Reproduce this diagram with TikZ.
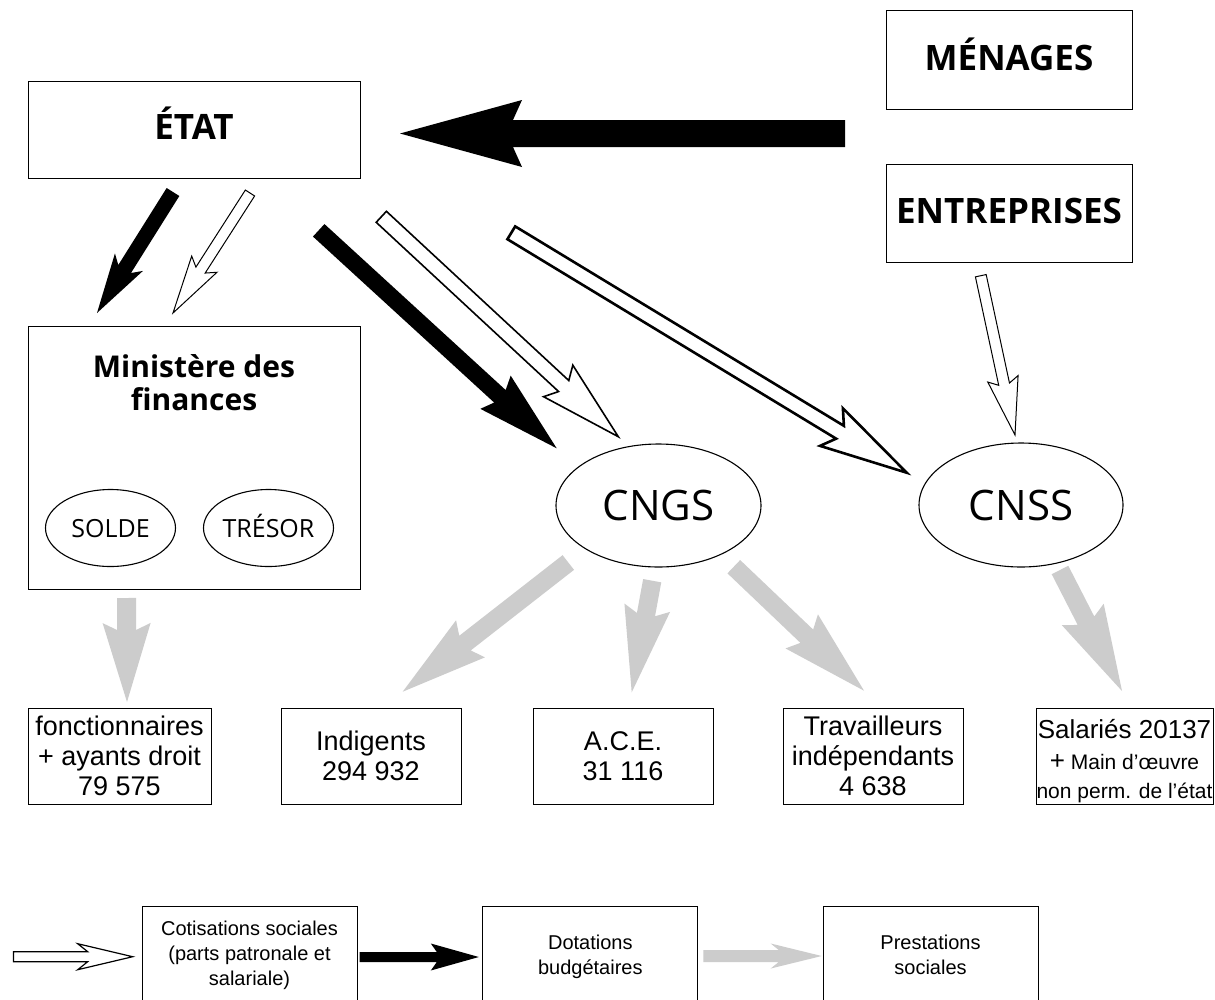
\documentclass[tikz,border=0pt]{standalone}
\usepackage{fontspec}
\setmainfont{Liberation Sans}
\newfontfamily\titlefont{Open Sans}
\usetikzlibrary{calc,shapes.geometric}
\definecolor{flowgray}{RGB}{204,204,204}
% #1 style, #2 tail, #3 tip, #4 half shaft width, #5 junction distance, #6 barb distance, #7 half head width
\newcommand\blockarrow[7]{%
  \coordinate (tmpj) at ($(#3)!#5pt!(#2)$);
  \coordinate (tmpb) at ($(#3)!#6pt!(#2)$);
  \path[#1] ($(#2)!#4pt!90:(#3)$) -- ($(tmpj)!#4pt!-90:(#2)$) -- ($(tmpb)!#7pt!-90:(#2)$) -- (#3)
     -- ($(tmpb)!#7pt!90:(#2)$) -- ($(tmpj)!#4pt!90:(#2)$) -- ($(#2)!#4pt!-90:(#3)$) -- cycle;
}
\tikzset{
  box/.style={draw=black, line width=1pt, inner sep=0pt, rectangle},
  titlebox/.style={box, font=\titlefont\bfseries\fontsize{35}{40}\selectfont, text height=25pt, text depth=5pt},
  oval/.style={draw=black, line width=1.1pt, ellipse, inner sep=0pt},
  smalloval/.style={oval, minimum width=130pt, minimum height=77pt, font=\titlefont\fontsize{25}{30}\selectfont, text height=18pt, text depth=0pt},
  bigoval/.style={oval, font=\titlefont\fontsize{42}{50}\selectfont, text height=30pt, text depth=0pt},
  popbox/.style={box, minimum height=96pt, align=center, font=\fontsize{27}{30}\selectfont},
  legbox/.style={box, minimum width=215pt, minimum height=104pt, anchor=north},
  legtext/.style={anchor=base, font=\fontsize{20}{25}\selectfont},
  blackarrow/.style={fill=black, draw=none},
  hollowarrow/.style={fill=white, draw=black, line width=1.2pt, line join=miter, miter limit=20},
  grayarrow/.style={fill=flowgray, draw=none},
}
\begin{document}
\begin{tikzpicture}[x=1pt,y=-1pt]
\useasboundingbox[fill=white] (0,0) rectangle (1215,999);

% ---- main nodes
\node[titlebox, minimum width=332pt, minimum height=97pt] (etat) at (194,129.5) {ÉTAT};
\node[titlebox, minimum width=246pt, minimum height=98.5pt] (menages) at (1009,60) {MÉNAGES};
\node[titlebox, minimum width=246pt, minimum height=98.5pt] (entreprises) at (1009,213.3) {ENTREPRISES};
\node[box, minimum width=332pt, minimum height=263pt] (minfin) at (194,457.5) {};
\node[anchor=base, font=\titlefont\bfseries\fontsize{30}{33}\selectfont] (minfin1) at (194,377) {Ministère des};
\node[anchor=base, font=\titlefont\bfseries\fontsize{30}{33}\selectfont] (minfin2) at (194,410) {finances};
\node[smalloval] (solde) at (110.5,528) {SOLDE};
\node[smalloval] (tresor) at (268.5,528) {TRÉSOR};
\node[bigoval, minimum width=205pt, minimum height=123pt] (cngs) at (658.5,505.5) {CNGS};
\node[bigoval, minimum width=204pt, minimum height=124pt] (cnss) at (1021,505) {CNSS};

% ---- population boxes
\node[popbox, minimum width=183pt] (fonct) at (119.5,756) {fonctionnaires\\+ ayants droit\\79 575};
\node[popbox, minimum width=180pt] (indig) at (371,756) {Indigents\\294 932};
\node[popbox, minimum width=180pt] (ace) at (623,756) {A.C.E.\\31 116};
\node[popbox, minimum width=180pt] (trav) at (873,756) {Travailleurs\\indépendants\\4 638};
\node[box, minimum width=177pt, minimum height=96pt] (sal) at (1124.5,756) {};
\node[anchor=base, font=\fontsize{26}{30}\selectfont] (sal1) at (1124.5,738) {Salariés 20137};
\node[anchor=base, font=\fontsize{21}{25}\selectfont] (sal2) at (1124.5,769) {{\fontsize{26}{30}\selectfont +} Main d’œuvre};
\node[anchor=base, font=\fontsize{21}{25}\selectfont] (sal3) at (1124.5,798) {non perm. de l’état};

% ---- legend boxes
\node[legbox] (cotis) at (249.5,906) {};
\node[legtext] (cotis1) at (249.5,935) {Cotisations sociales};
\node[legtext] (cotis2) at (249.5,960) {(parts patronale et};
\node[legtext] (cotis3) at (249.5,985) {salariale)};
\node[legbox] (dotat) at (590.3,906) {};
\node[legtext] (dotat1) at (590.3,949) {Dotations};
\node[legtext] (dotat2) at (590.3,974) {budgétaires};
\node[legbox] (prest) at (930.5,906) {};
\node[legtext] (prest1) at (930.5,949) {Prestations};
\node[legtext] (prest2) at (930.5,974) {sociales};

% ---- arrow end points
\coordinate (menT) at (845,133.5);   \coordinate (etatH) at (400,133.5);
\coordinate (e1T) at (173,192);      \coordinate (min1H) at (97,313);
\coordinate (e2T) at (250,193);      \coordinate (min2H) at (173,313);
\coordinate (e3T) at (318.7,230.3);  \coordinate (cngs1H) at (556.7,448.3);
\coordinate (e4T) at (381.3,216.8);  \coordinate (cngs2H) at (618.3,436.7);
\coordinate (e5T) at (511.3,232.8);  \coordinate (cnss1H) at (906.7,472.7);
\coordinate (entT) at (980.8,275.7); \coordinate (cnss2H) at (1015,435);
\coordinate (g1T) at (126.5,598);    \coordinate (fonctH) at (127,702);
\coordinate (g2T) at (568.3,562.5);  \coordinate (indigH) at (402.7,691.7);
\coordinate (g3T) at (652.2,580.7);  \coordinate (aceH) at (631.7,692.3);
\coordinate (g4T) at (733.8,566.7);  \coordinate (travH) at (864,690.7);
\coordinate (g5T) at (1060,570);     \coordinate (salH) at (1122,691);
\coordinate (l1T) at (13.5,956.7);   \coordinate (l1H) at (132.7,956.7);
\coordinate (l2T) at (359.6,957);    \coordinate (l2H) at (478.8,957);
\coordinate (l3T) at (703.3,956);    \coordinate (l3H) at (821.7,956);

% ---- block arrows
\blockarrow{blackarrow}{menT}{etatH}{13.5}{113}{122}{33.5}
\blockarrow{blackarrow}{e1T}{min1H}{7.5}{52}{60}{16.5}
\blockarrow{hollowarrow, line width=1pt}{e2T}{min2H}{5.5}{51}{58}{15}
\blockarrow{blackarrow}{e3T}{cngs1H}{8.5}{77}{83}{22.5}
\blockarrow{hollowarrow, line width=1.6pt}{e4T}{cngs2H}{7.5}{74.5}{82}{21.5}
\blockarrow{hollowarrow, line width=2.6pt}{e5T}{cnss1H}{7.5}{78}{88}{22}
\blockarrow{hollowarrow, line width=1pt}{entT}{cnss2H}{5.5}{52}{57.5}{15.5}

\blockarrow{grayarrow}{g1T}{fonctH}{9.5}{72}{79}{24}
\blockarrow{grayarrow}{g2T}{indigH}{9.3}{79}{86}{23.5}
\blockarrow{grayarrow}{g3T}{aceH}{9.2}{79}{86}{23.2}
\blockarrow{grayarrow}{g4T}{travH}{9.2}{79}{86}{23.5}
\blockarrow{grayarrow}{g5T}{salH}{9.3}{79}{86}{23.5}

\blockarrow{hollowarrow}{l1T}{l1H}{5}{45}{55}{13}
\blockarrow{blackarrow}{l2T}{l2H}{5}{42}{48}{13.5}
\blockarrow{grayarrow}{l3T}{l3H}{6}{43}{51}{12.5}
\end{tikzpicture}
\end{document}
